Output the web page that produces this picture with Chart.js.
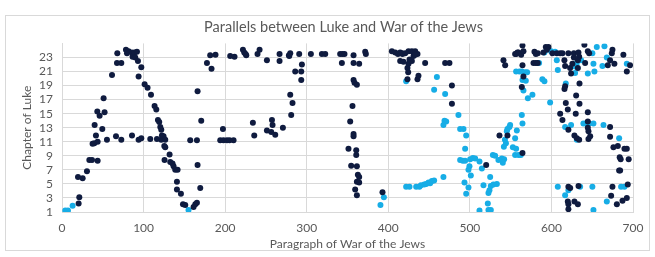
<!DOCTYPE html>
<html>
<head>
<meta charset="utf-8">
<script src="https://cdn.jsdelivr.net/npm/chart.js@4"></script>
<style>
  html, body { margin: 0; padding: 0; background: #fff; }
  #wrap { position: relative; width: 655px; height: 257px; }
  #frame { position: absolute; left: 5px; top: 15px; width: 645px; height: 236px; border: 1px solid #d9d9d9; box-sizing: border-box; }
  canvas { position: absolute; left: 0; top: 0; }
</style>
</head>
<body>
<div id="wrap">
  <div id="frame"></div>
  <canvas id="lukeChart" width="655" height="257"></canvas>
</div>
<script>
// Параграф War of the Jews (x) и глава Луки (y), тёмная серия
const darkX = [20.4,21.2,19.6,25.3,30.6,33.5,36.8,43.7,37.5,39.6,41.6,43.7,40,43.3,46.1,49.4,52.2,51,55.1,66.2,72.7,61.3,67.8,67.4,72.7,78.4,81.6,79.7,85.8,86.5,89,91.9,89.8,93.1,97.2,93.9,85.8,93.9,97.2,101.3,104.9,109.1,113.5,115.6,117.6,119.2,120.5,121.7,122.5,121.7,108.2,116.4,124.5,126.6,125.4,126.6,125.7,131.9,132.7,135.5,136.8,
  138.8,141.7,140.9,140.9,145.8,148.3,151.1,161.3,163.4,165.4,157.2,165.4,166.2,169.5,170.7,166.2,177.7,183.3,181.7,188.2,197.3,194,198,202.2,205.4,210.3,206.2,211.5,221.8,223.4,225.9,225,239.7,242.2,251.2,266.7,266.7,278.2,234,235.7,251.2,257.4,258.1,256.5,261.4,270.8,
  279.8,282.6,281,278.6,279.8,285.9,293.3,294.1,293.3,290.8,305.1,318.6,322.7,341,343.9,346.3,357.4,371.7,372.5,343.1,357.4,364.3,357.4,358.6,361.5,356.1,353.3,357.4,357.4,351.2,360.7,360.7,354.5,361.5,362.7,364.3,361.5,364.3,359.4,361.5,392.9,404.4,408.5,411.8,414.6,417.4,414.6,
  416.7,420.7,424.8,428.9,433,435.8,430.9,426,424.8,423.5,424.4,428.9,433,418.6,445.2,469.7,475,423.5,435.8,437,478,478,520,536.3,546.1,556.7,558.3,541.2,543.3,
  555.5,559.6,564.5,562.9,565.7,564.5,565.7,563.7,564.5,579.2,580.9,583.3,578,580.9,583.3,590.2,593.1,596.3,594.4,601.2,606.6,610.7,613.5,620.8,615.9,616.8,622.9,625.7,627.5,627.5,633.1,634,632.4,624.1,632.4,640.4,641.3,644.6,646.2,669.1,671.9,674,674.8,677.2,688.2,692.4,696.4,
  616.8,616,634.4,630.3,617.6,620.1,634.4,644.6,610.7,613.5,629.8,644.6,620.8,628.2,631.1,634,644.6,645.4,647.5,645.4,671.9,671.9,681.4,689.5,692.4,676,684.9,694.7,683.7,683,684.2,
  620.8,623,633.2,620.1,620.8,628.2,632.4,620.8,674.8,693.6,673.2,680.2,687.1,692.4];
const darkY = [2.2,3.1,6.0,5.8,6.8,8.4,8.4,8.3,10.7,10.8,11.9,11.0,13.4,15.3,14.7,12.8,15.2,17.2,11.3,11.8,11.3,20.5,23.6,22.2,22.2,24.1,23.9,23.6,23.7,23.1,23.7,23.8,23.0,22.5,21.6,20.3,11.9,11.3,11.5,19.2,18.7,17.7,16.1,15.6,14.1,13.8,13.1,12.7,11.9,11.3,11.4,11.4,11.8,11.3,10.4,10.2,8.4,9.2,8.1,7.9,7.5,
  7.0,7.0,5.3,4.2,3.6,2.1,2.0,1.7,2.1,2.3,11.2,11.2,7.7,4.4,14.0,18.2,22.2,21.4,23.3,23.4,12.8,11.2,11.2,11.2,11.2,11.2,23.2,23.1,24.1,23.7,23.3,23.5,23.5,24.1,22.6,23.5,22.5,23.3,13.7,11.9,12.6,14.1,13.4,12.4,12.0,13.0,
  17.7,16.5,14.8,23.2,23.6,21.0,21.0,22.0,19.8,23.5,23.5,23.5,23.5,23.5,23.5,23.5,23.3,23.8,23.5,22.2,22.2,22.1,19.8,19.4,19.1,16.1,13.9,12.1,11.8,10.0,9.8,9.1,7.6,7.5,6.3,6.0,5.3,5.2,4.2,3.4,3.8,23.9,23.7,23.5,23.7,23.5,22.5,
  23.6,23.6,23.9,23.9,23.9,23.5,23.2,22.7,22.1,21.5,20.9,22.5,23.4,22.4,22.2,22.2,22.2,19.9,19.9,20.4,19.0,16.4,7.7,11.9,11.9,23.5,23.7,22.6,21.9,
  23.5,23.7,24.7,23.4,23.9,21.9,20.3,18.8,9.4,23.8,23.5,23.6,22.2,22.2,22.2,23.7,24.5,24.5,24.1,23.6,23.6,23.6,23.6,23.6,22.6,21.8,21.5,22.1,23.0,23.6,23.7,23.1,22.6,20.7,21.5,24.8,22.2,23.9,23.6,21.9,22.6,23.6,24.1,22.1,23.4,21.0,21.9,
  18.9,18.5,19.3,17.6,16.5,15.6,16.4,15.2,15.0,14.1,15.0,13.9,12.7,11.9,11.5,11.3,13.0,12.5,11.8,11.4,13.1,11.7,10.4,10.0,10.0,10.2,8.5,8.5,8.8,6.9,6.9,
  4.6,4.4,4.7,2.5,2.1,2.5,2.1,1.4,4.6,4.9,3.3,2.1,2.6,3.0];

// Светлая серия
const lightX = [4.0,7.3,13,155.1,390.4,394.6,421.9,459.6,456.2,469.7,486,468.9,471,467.6,488.1,492.2,495.5,494.2,488.1,491.4,494.2,500.4,503.7,506.5,499.5,498.3,501.2,493.4,498.3,495.5,511.8,514.7,524.9,525.7,516.7,524,522.8,533.1,528.9,522,511.8,522.8,525.7,
  528.2,531,535,539.2,542,540.4,543,544.2,541.7,546.1,548.5,549.4,545.3,557.6,552.7,556.7,555.5,559.6,562.5,556.7,560.8,
  421.9,426,434.2,438.2,440,444,446.5,449.3,451.3,453.4,456.2,467.6,
  563.7,567.8,570.2,564.5,568.6,565.7,571.1,576.7,563.7,564.5,555.5,588.9,591.4,598.4,584.9,591.4,599.6,604.5,606.6,607.8,626.9,629,631.1,636.4,629,617.6,644.6,652.7,650.2,655.6,651.5,665,667.9,662.5,692.4,
  616.8,624.1,639.2,642.2,646.2,651.5,663.8,631.1,683,607.8,616.8,620.8,635.2,650.2,685.4,689.5,667.9,651.5];
const lightY = [1.2,1.2,1.9,1.3,2.0,3.1,19.6,20.2,18.4,17.8,14.8,14.0,13.9,13.4,12.8,12.8,11.9,10.0,8.4,8.3,8.3,8.5,8.7,8.6,7.5,7.0,6.2,5.2,4.5,3.6,8.2,7.2,6.0,4.7,4.8,4.1,3.7,5.0,4.9,2.2,1.2,1.3,1.3,
  9.1,9.0,8.4,8.6,8.5,8.0,11.3,10.8,10.3,12.8,13.1,13.4,12.5,12.6,10.2,10.0,9.1,9.1,9.1,21.0,21.0,
  4.6,4.6,4.6,4.6,4.8,4.9,5.0,5.2,5.1,5.4,5.5,6.0,
  21.0,20.9,20.9,19.8,19.7,18.3,17.2,17.7,14.8,13.6,11.5,19.9,19.6,16.6,22.2,23.7,23.9,23.8,22.6,21.2,22.0,21.7,22.2,22.6,20.8,19.3,20.7,21.0,23.6,24.5,22.1,24.6,23.0,21.8,22.1,
  13.1,13.4,13.6,13.6,13.6,13.6,13.4,11.3,11.5,4.6,3.4,4.1,4.6,4.6,4.6,4.6,2.5,1.3];

const yTicks = [1, 3, 5, 7, 9, 11, 13, 15, 17, 19, 21, 23];
const xTicks = [0, 100, 200, 300, 400, 500, 600, 700];

const toPoints = (xs, ys) => xs.map((x, i) => ({ x: x, y: ys[i] }));
const axisFont = { family: 'Lato', size: 12 };

// сдвигаем заголовок вправо, как в оригинале
const shiftTitle = {
  id: 'shiftTitle',
  afterLayout(chart) {
    if (chart.titleBlock) {
      chart.titleBlock.left += 22;
      chart.titleBlock.right += 22;
    }
  }
};

const ctx = document.getElementById('lukeChart').getContext('2d');
new Chart(ctx, {
  type: 'scatter',
  data: {
    datasets: [{
      label: 'dark',
      data: toPoints(darkX, darkY),
      backgroundColor: '#0f1b3f',
      borderColor: '#0f1b3f',
      pointRadius: 3,
      borderWidth: 0
    }, {
      label: 'light',
      data: toPoints(lightX, lightY),
      backgroundColor: '#17ade6',
      borderColor: '#17ade6',
      pointRadius: 3,
      borderWidth: 0
    }]
  },
  plugins: [shiftTitle],
  options: {
    responsive: false,
    animation: false,
    layout: { padding: { left: 10, right: 22, top: 0, bottom: 5 } },
    plugins: {
      legend: { display: false },
      tooltip: { enabled: false },
      title: {
        display: true,
        text: 'Parallels between Luke and War of the Jews',
        color: '#595959',
        font: { family: 'Lato', size: 14.5, weight: 'normal' },
        padding: { top: 19, bottom: 7 }
      }
    },
    scales: {
      x: {
        type: 'linear',
        min: 0,
        max: 700,
        afterFit: s => { s.height = 40; },
        afterBuildTicks: s => { s.ticks = xTicks.map(v => ({ value: v })); },
        grid: { color: '#d9d9d9', drawTicks: false },
        border: { color: '#d9d9d9' },
        ticks: { color: '#595959', font: axisFont, padding: 9, autoSkip: false, maxRotation: 0 },
        title: {
          display: true,
          text: 'Paragraph of War of the Jews',
          color: '#595959',
          font: axisFont,
          padding: { top: 0, bottom: 1 }
        }
      },
      y: {
        type: 'linear',
        min: 1,
        max: 25,
        afterFit: s => { s.width = 52; },
        afterBuildTicks: s => { s.ticks = yTicks.map(v => ({ value: v })); },
        grid: { color: '#d9d9d9', drawTicks: false },
        border: { color: '#d9d9d9' },
        ticks: { color: '#595959', font: axisFont, padding: 9, autoSkip: false },
        title: {
          display: true,
          text: 'Chapter of Luke',
          color: '#595959',
          font: axisFont,
          padding: { top: 10, bottom: 0 }
        }
      }
    }
  }
});
</script>
</body>
</html>
